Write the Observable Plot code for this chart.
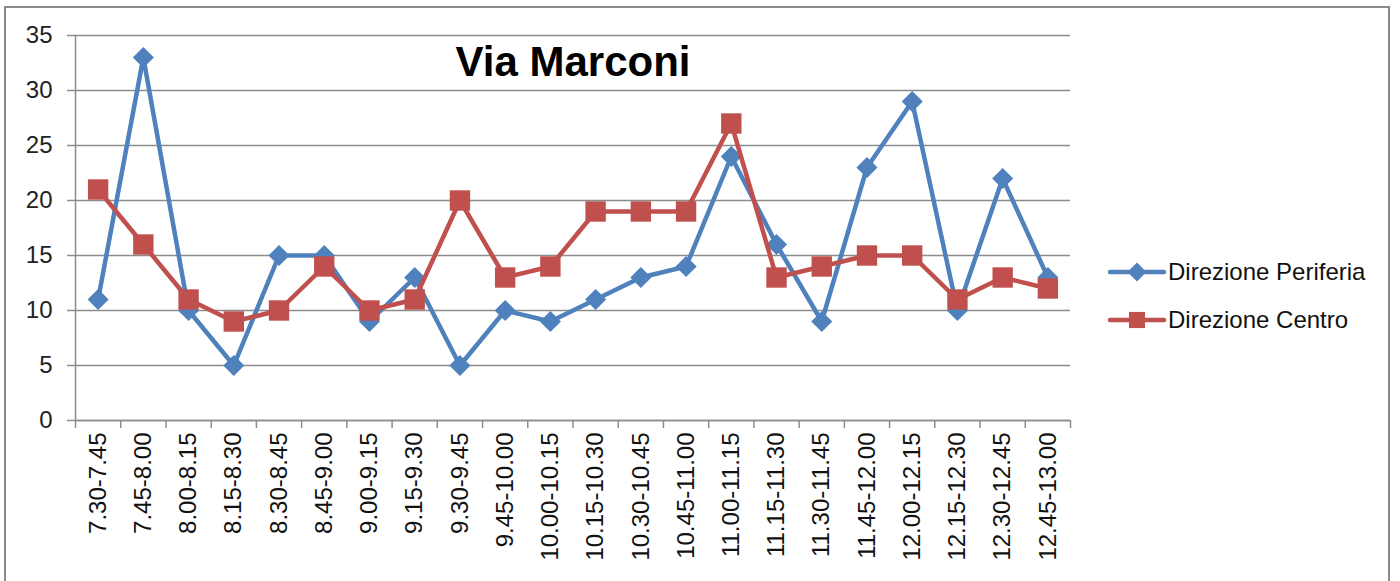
<!DOCTYPE html>
<html>
<head>
<meta charset="utf-8">
<script src="https://cdn.jsdelivr.net/npm/d3@7"></script>
<script src="https://cdn.jsdelivr.net/npm/@observablehq/plot@0.6"></script>
<style>
  html, body { margin: 0; padding: 0; background: #fff; }
  #wrap { position: relative; width: 1400px; height: 581px; overflow: hidden; font-family: "Liberation Sans", Arial, sans-serif; }
  #border { position: absolute; left: 4px; top: 6px; width: 1386px; height: 600px; border: 2px solid #8a8a8a; box-sizing: border-box; }
  #legend { position: absolute; left: 1108px; top: 248px; font-size: 24px; color: #111; }
  .item { display: flex; align-items: center; height: 48px; }
  .item svg { margin-right: 2px; }
</style>
</head>
<body>
<div id="wrap">
  <div id="border"></div>
  <div id="chart"></div>
  <div id="legend"></div>
</div>
<script>
const title = "Via Marconi";
const categories = ["7.30-7.45","7.45-8.00","8.00-8.15","8.15-8.30","8.30-8.45","8.45-9.00","9.00-9.15","9.15-9.30","9.30-9.45","9.45-10.00","10.00-10.15","10.15-10.30","10.30-10.45","10.45-11.00","11.00-11.15","11.15-11.30","11.30-11.45","11.45-12.00","12.00-12.15","12.15-12.30","12.30-12.45","12.45-13.00"];
const seriesNames = ["Direzione Periferia", "Direzione Centro"];
const periferia = [11, 33, 10, 5, 15, 15, 9, 13, 5, 10, 9, 11, 13, 14, 24, 16, 9, 23, 29, 10, 22, 13];
const centro = [21, 16, 11, 9, 10, 14, 10, 11, 20, 13, 14, 19, 19, 19, 27, 13, 14, 15, 15, 11, 13, 12];
const yTicks = [0, 5, 10, 15, 20, 25, 30, 35];

const blue = "#4F81BD";
const red = "#C0504D";
const grid = "#8c8c8c";

const rowsP = categories.map((c, i) => ({pos: i + 0.5, v: periferia[i]}));
const rowsC = categories.map((c, i) => ({pos: i + 0.5, v: centro[i]}));

const diamond = d3.symbolDiamond2;
const square = d3.symbolSquare;

const chart = Plot.plot({
  width: 1400,
  height: 581,
  marginLeft: 75,
  marginRight: 330,
  marginTop: 35,
  marginBottom: 161,
  x: {domain: [0, categories.length]},
  y: {domain: [0, 35]},
  style: {fontFamily: "'Liberation Sans', Arial, sans-serif", fontSize: "24px", color: "#111", background: "transparent"},
  marks: [
    Plot.gridY(yTicks, {stroke: grid, strokeOpacity: 1, strokeWidth: 1.5}),
    Plot.axisY(yTicks, {tickSize: 8, tickPadding: 15, label: null, stroke: grid, strokeWidth: 1.5, fill: "#222"}),
    Plot.ruleX([0], {stroke: grid, strokeWidth: 1.5}),
    Plot.ruleY([0], {stroke: grid, strokeWidth: 1.5}),
    Plot.axisX(d3.range(categories.length + 1), {tickSize: 8, tickFormat: () => "", label: null, stroke: grid, strokeWidth: 1.5}),
    Plot.axisX(categories.map((c, i) => i + 0.5), {tickSize: 0, tickPadding: 12, tickRotate: -90, tickFormat: d => categories[Math.round(d - 0.5)], label: null, fill: "#111"}),
    Plot.line(rowsP, {x: "pos", y: "v", stroke: blue, strokeWidth: 4.5}),
    Plot.dot(rowsP, {x: "pos", y: "v", symbol: diamond, r: 9.5, fill: blue, stroke: "none"}),
    Plot.line(rowsC, {x: "pos", y: "v", stroke: red, strokeWidth: 4.5}),
    Plot.dot(rowsC, {x: "pos", y: "v", symbol: square, r: 11.5, fill: red, stroke: "none"}),
    Plot.text([title], {frameAnchor: "top", dy: 27, fontSize: 42, fontWeight: "bold", fill: "#000", lineAnchor: "middle"})
  ]
});
document.getElementById("chart").appendChild(chart);

// Legend
const legend = d3.select("#legend");
const legendItems = [
  {name: seriesNames[0], color: blue, sym: diamond, size: 230},
  {name: seriesNames[1], color: red, sym: square, size: 260}
];
for (const it of legendItems) {
  const row = legend.append("div").attr("class", "item");
  const svg = row.append("svg").attr("width", 58).attr("height", 24);
  svg.append("line").attr("x1", 2).attr("x2", 56).attr("y1", 12).attr("y2", 12)
    .attr("stroke", it.color).attr("stroke-width", 4.5).attr("stroke-linecap", "round");
  svg.append("path").attr("d", d3.symbol(it.sym, it.size)()).attr("transform", "translate(29,12)").attr("fill", it.color);
  row.append("span").text(it.name);
}
</script>
</body>
</html>
